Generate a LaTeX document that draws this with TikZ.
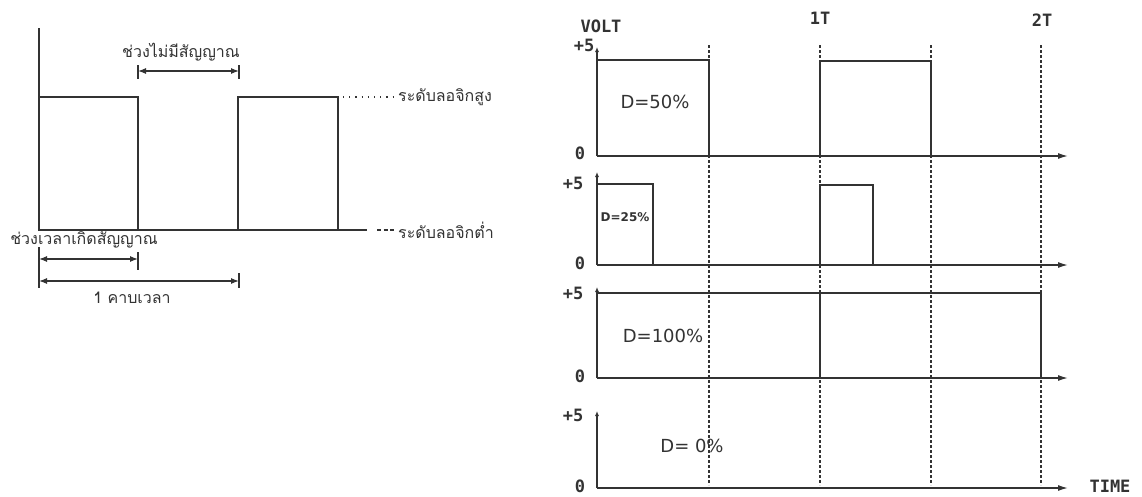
\documentclass[tikz,border=0pt]{standalone}
\usepackage{fontspec}
\setmainfont{DejaVu Sans}
\newfontfamily\thaifont[Script=Thai]{Loma}
\newfontfamily\monob{DejaVu Sans Mono}
\usetikzlibrary{arrows.meta}
\definecolor{ink}{HTML}{333333}
\begin{document}
\begin{tikzpicture}[x=1pt,y=-1pt,
  sig/.style={line width=1.4pt, draw=ink, line join=miter},
  guide/.style={line width=1.3pt, draw=ink, dash pattern=on 2.5pt off 2.5pt},
  dotline/.style={line width=1.1pt, draw=ink, dash pattern=on 1.2pt off 5pt},
  dashline/.style={line width=1.1pt, draw=ink, dash pattern=on 4pt off 2.5pt},
  dim/.style={line width=1.2pt, draw=ink, {Latex[length=8pt,width=6pt]}-{Latex[length=8pt,width=6pt]}},
  bar/.style={line width=1.3pt, draw=ink},
  taxis/.style={sig, -{Latex[length=10pt,width=6pt]}},
  vaxis/.style={sig, -{Latex[length=5pt,width=4pt]}},
  thai/.style={font=\thaifont\fontsize{16}{16}\selectfont, inner sep=0pt, text=ink},
  lab/.style={font=\monob\bfseries\fontsize{17}{17}\selectfont, inner sep=0pt, text=ink},
  duty/.style={font=\fontsize{18}{18}\selectfont, inner sep=0pt, text=ink},
  dutys/.style={font=\bfseries\fontsize{12}{12}\selectfont, inner sep=0pt, text=ink}
]
\useasboundingbox (0,0) rectangle (1142,496);
\fill[white] (0,0) rectangle (1142,496);

% ---------------- left diagram ----------------
\draw[sig] (39,28) -- (39,230) -- (367,230);
\draw[sig] (39,97) -- (138,97) -- (138,230);
\draw[sig] (238,230) -- (238,97) -- (338,97) -- (338,230);
\draw[dotline] (343,97) -- (396,97);
\draw[dashline] (377,230) -- (396,230);
\node[thai, anchor=west] (hi) at (398,97) {ระดับลอจิกสูง};
\node[thai, anchor=west] (lo) at (398,230) {ระดับลอจิกต่ำ};

\node[thai] (nosig) at (181,52) {ช่วงไม่มีสัญญาณ};
\coordinate (ns1) at (138,71);
\coordinate (ns2) at (239,71);
\draw[dim] (ns1) -- (ns2);
\draw[bar] (138,65) -- (138,79);
\draw[bar] (239,65) -- (239,79);

\node[thai] (sigt) at (84,240) {ช่วงเวลาเกิดสัญญาณ};
\coordinate (a1) at (39,259);
\coordinate (a2) at (138,259);
\draw[dim] (a1) -- (a2);
\coordinate (b1) at (39,281);
\coordinate (b2) at (239,281);
\draw[dim] (b1) -- (b2);
\draw[bar] (39,247) -- (39,288);
\draw[bar] (138,252) -- (138,270);
\draw[bar] (239,273) -- (239,288);
\node[thai] (period) at (132,298) {1 คาบเวลา};

% ---------------- right diagram ----------------
% guide lines
\foreach \gx in {709,820,931,1041} \draw[guide] (\gx,45) -- (\gx,485);

% panel 1 (50%)
\draw[taxis] (597,156) -- (1068,156);
\draw[vaxis] (597,156) -- (597,47);
\draw[sig] (597,60) -- (709,60) -- (709,156);
\draw[sig] (820,156) -- (820,61) -- (931,61) -- (931,156);

% panel 2 (25%)
\draw[taxis] (597,265) -- (1068,265);
\draw[vaxis] (597,265) -- (597,172);
\draw[sig] (597,184) -- (653,184) -- (653,265);
\draw[sig] (820,265) -- (820,185) -- (873,185) -- (873,265);

% panel 3 (100%)
\draw[taxis] (597,378) -- (1068,378);
\draw[vaxis] (597,378) -- (597,287);
\draw[sig] (597,293) -- (1041,293) -- (1041,378);
\draw[sig] (820,293) -- (820,378);

% panel 4 (0%)
\draw[taxis] (597,488) -- (1068,488);
\draw[vaxis] (597,488) -- (597,411);

% labels
\node[lab] (volt) at (601,26) {VOLT};
\node[lab] (t1) at (820,18) {1T};
\node[lab] (t2) at (1042,20) {2T};
\node[lab] (time) at (1110,486) {TIME};
\node[lab] (p1) at (584,45) {+5};
\node[lab] (p2) at (573,183) {+5};
\node[lab] (p3) at (573,293) {+5};
\node[lab] (p4) at (573,415) {+5};
\node[lab] (z1) at (580,153) {0};
\node[lab] (z2) at (580,263) {0};
\node[lab] (z3) at (580,376) {0};
\node[lab] (z4) at (580,486) {0};

\node[duty] (d50) at (655,102) {D=50\%};
\node[dutys] (d25) at (625,217) {D=25\%};
\node[duty] (d100) at (663,336) {D=100\%};
\node[duty] (d0) at (692,446) {D= 0\%};
\end{tikzpicture}
\end{document}
